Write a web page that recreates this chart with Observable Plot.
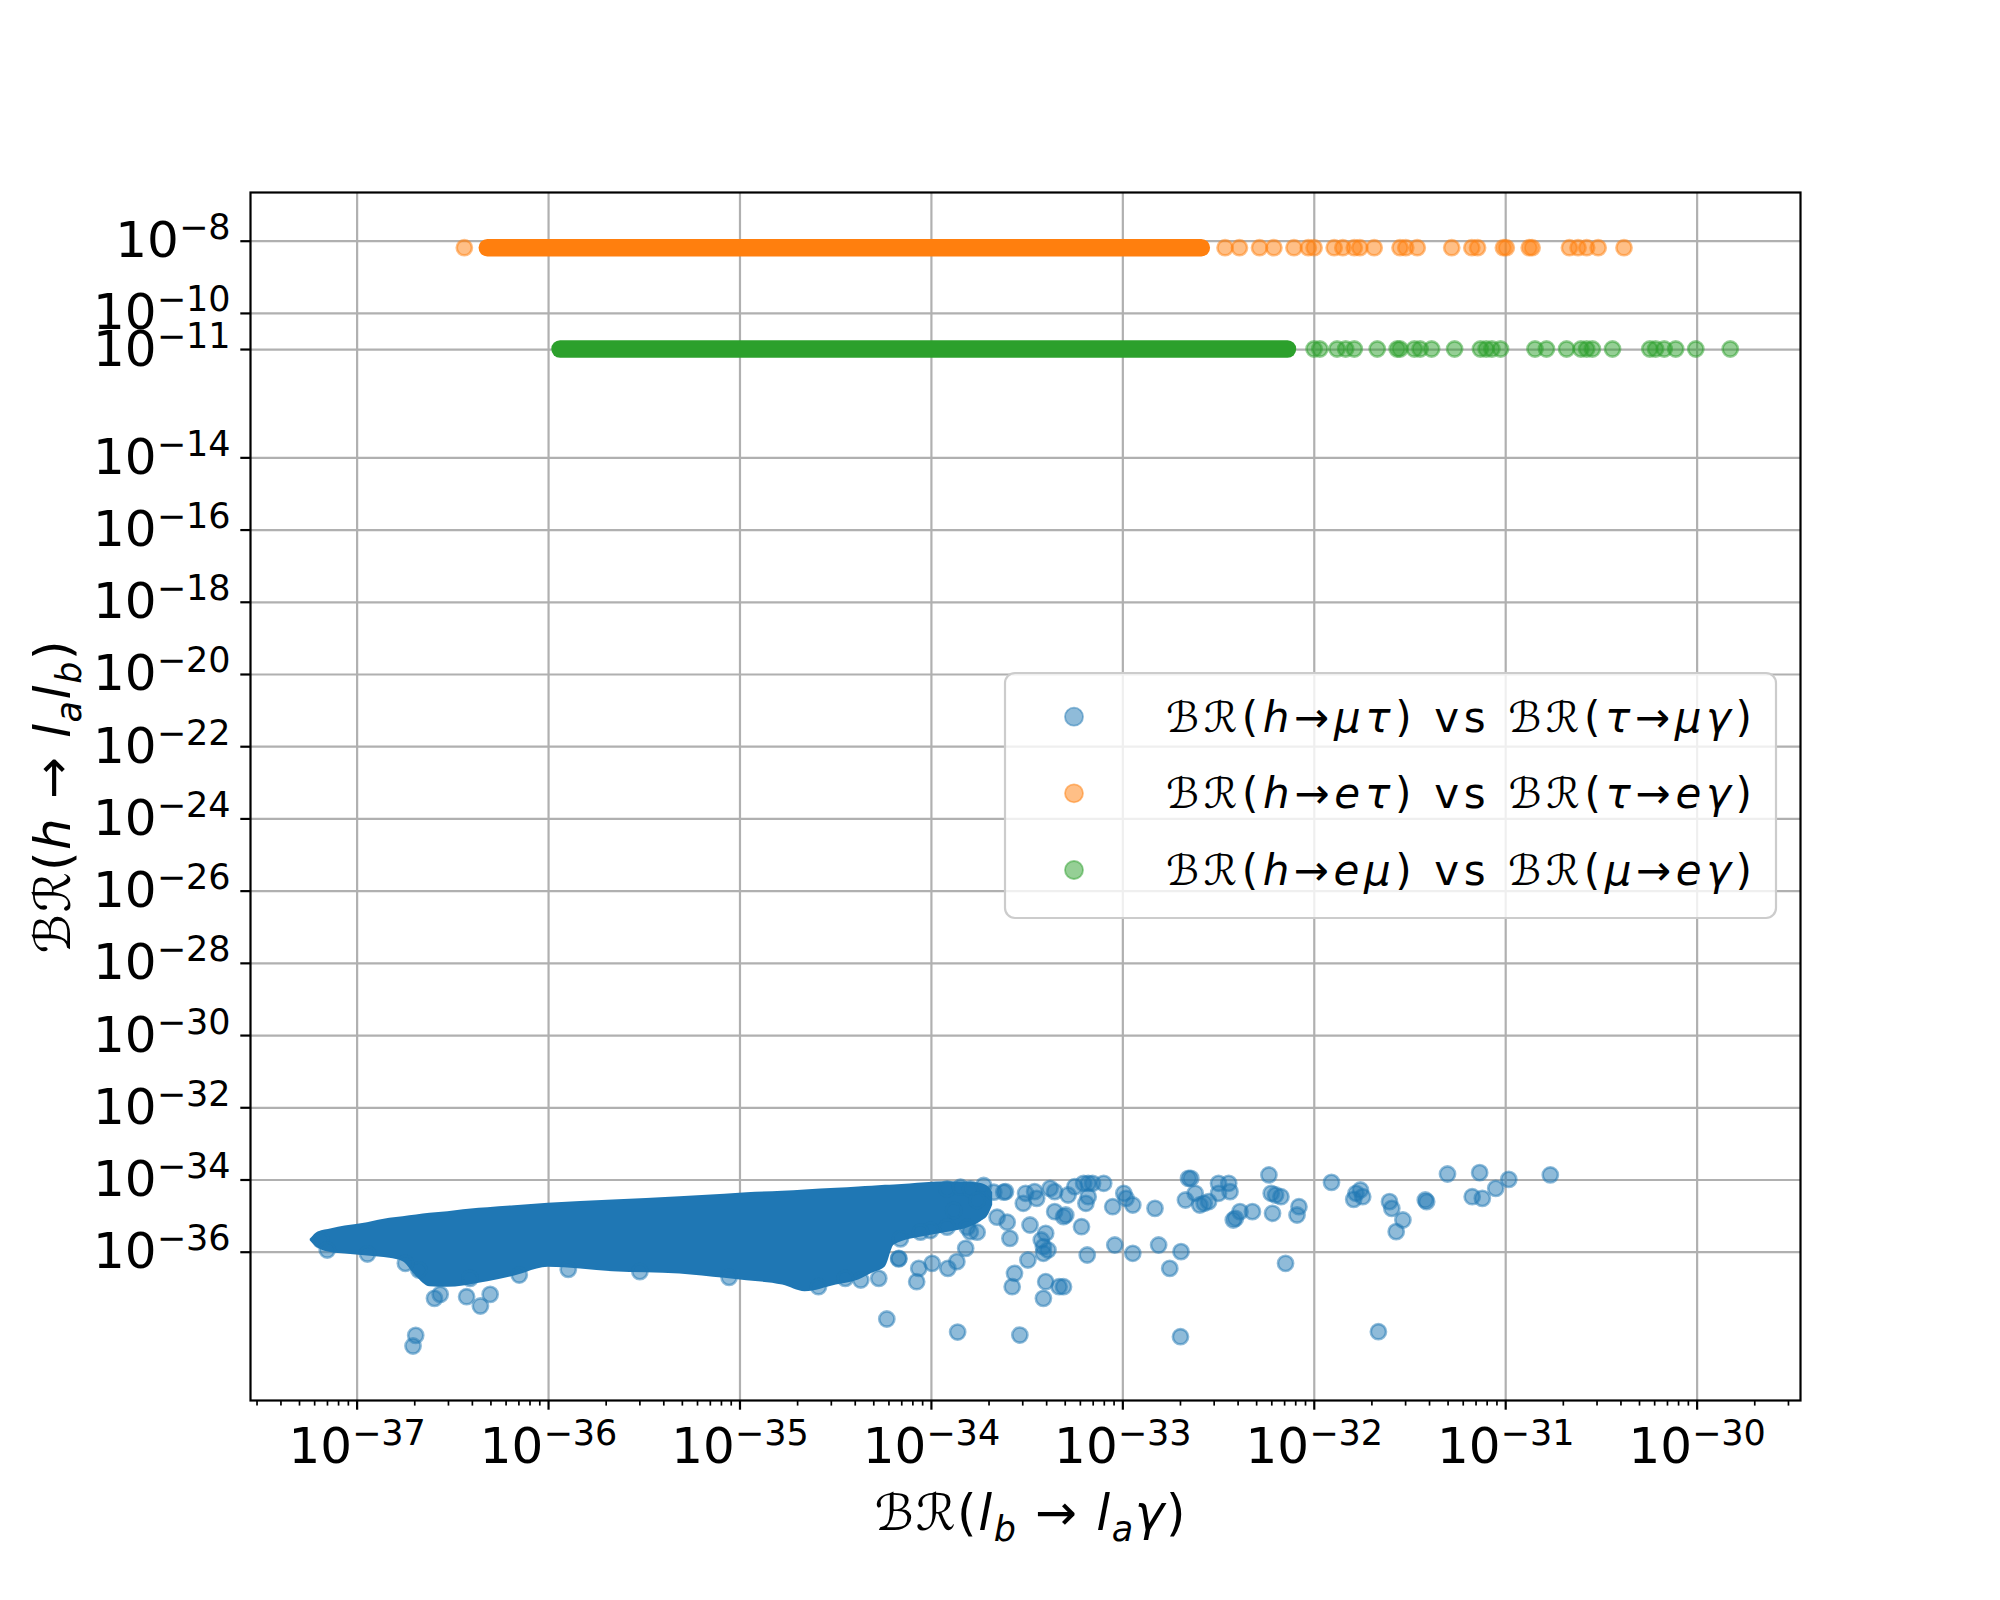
<!DOCTYPE html>
<html><head><meta charset="utf-8">
<script src="https://cdn.jsdelivr.net/npm/d3@7"></script>
<script src="https://cdn.jsdelivr.net/npm/@observablehq/plot@0.6"></script>
<style>body{margin:0;background:#fff}svg text{white-space:pre}</style>
</head><body><div id="chart"></div><script>
// ---- data (log10 exponents) ----
const xTickExps = [-37,-36,-35,-34,-33,-32,-31,-30];
const yTickExps = [-8,-10,-11,-14,-16,-18,-20,-22,-24,-26,-28,-30,-32,-34,-36];

// h->e tau vs tau->e gamma (orange)
const tauEY = -8.18;
const tauEBand = [-36.32, -32.59];
const tauEDots = [-36.44,-32.466,-32.391,-32.286,-32.211,-32.106,-32.031,-32.001,-31.896,-31.851,-31.791,-31.762,-31.687,-31.552,-31.522,-31.462,-31.282,-31.177,-31.147,-31.012,-30.997,-30.877,-30.862,-30.667,-30.622,-30.577,-30.517,-30.382];

// h->e mu vs mu->e gamma (green)
const muEY = -10.985;
const muEBand = [-35.94, -32.14];
const muEDots = [-32.001,-31.971,-31.881,-31.836,-31.791,-31.671,-31.567,-31.552,-31.477,-31.447,-31.387,-31.267,-31.132,-31.102,-31.072,-31.027,-30.847,-30.787,-30.682,-30.607,-30.577,-30.547,-30.442,-30.247,-30.217,-30.172,-30.112,-30.007,-29.827];

// h->mu tau vs tau->mu gamma (blue): dense core outline
const coreX  = [-37.245,-37.203,-37.133,-37.063,-36.946,-36.830,-36.760,-36.690,-36.620,-36.526,-36.363,-36.317,-36.177,-36.002,-35.663,-35.314,-35.080,-34.964,-34.777,-34.660,-34.497,-34.380,-34.310,-34.240,-34.194,-34.031,-33.914,-33.797,-33.740,-33.700,-33.680];
const coreHi = [-35.644,-35.440,-35.348,-35.274,-35.182,-35.062,-35.016,-34.970,-34.923,-34.877,-34.785,-34.766,-34.711,-34.646,-34.554,-34.462,-34.397,-34.351,-34.314,-34.277,-34.231,-34.194,-34.175,-34.148,-34.139,-34.074,-34.046,-34.060,-34.100,-34.200,-34.350];
const coreLo = [-35.681,-35.893,-36.013,-36.050,-36.105,-36.170,-36.262,-36.678,-36.955,-36.973,-36.862,-36.816,-36.659,-36.419,-36.539,-36.604,-36.724,-36.789,-36.909,-37.093,-36.909,-36.770,-36.585,-36.401,-35.801,-35.560,-35.450,-35.300,-35.150,-34.950,-34.700];
// blue scattered points
const blueX = [-36.694,-36.708,-36.596,-36.566,-36.428,-36.356,-36.305,-34.233,-33.863,-34.170,-34.275,-34.369,-34.450,-34.077,-34.066,-33.996,-33.914,-33.867,-33.821,-33.797,-36.678,-36.153,
 -33.538,-32.699,-31.665,-33.613,-33.590,-33.566,-33.578,-33.520,-33.508,-33.496,-33.485,-33.461,-33.450,-33.426,-33.415,-33.415,-33.403,-33.391,-33.403,-33.415,-33.380,-33.356,-33.356,-33.333,-33.310,-33.310,-33.298,-33.286,-33.251,-33.216,-33.205,-33.193,-33.181,-33.181,-33.186,-33.158,-33.100,-33.053,-33.042,-32.995,-32.983,-32.948,-32.948,-32.832,-32.813,-32.755,-32.696,-32.673,-32.657,-32.645,-32.622,-32.598,-32.575,-32.552,-32.500,-32.500,-32.447,-32.440,-32.423,-32.412,-32.388,-32.323,-32.237,-32.225,-32.218,-32.202,-32.174,-32.150,-32.090,-32.080,-31.910,-31.794,-31.782,-31.759,-31.747,-31.607,-31.595,-31.572,-31.537,-31.420,-31.413,-31.304,-31.175,-31.136,-31.122,-31.052,-30.984,-30.767,
 -33.918,-33.848,-33.796,-33.727,-33.674,-33.622,-33.761,-33.883,-33.813,-33.761,-33.918,-34.005,-34.057,-33.657,-33.604,-34.162,-34.171,
 -37.190,-37.156,-36.946,-36.748,-36.410,-35.897,-35.523,-35.057,-34.590];
const blueY = [-38.303,-38.598,-37.278,-37.167,-37.232,-37.490,-37.167,-37.850,-38.211,-36.170,-36.724,-36.770,-36.724,-36.816,-36.447,-36.308,-36.447,-36.262,-35.893,-35.431,-36.493,-36.632,
 -38.294,-38.340,-38.201,-34.323,-35.616,-36.585,-36.955,-34.646,-34.369,-36.216,-35.247,-34.323,-34.508,-35.662,-35.847,-36.031,-35.477,-35.939,-36.816,-37.278,-34.231,-34.877,-34.323,-36.955,-36.955,-35.016,-34.970,-34.416,-34.185,-35.293,-34.092,-34.646,-34.092,-34.462,-36.078,-34.092,-34.092,-34.739,-35.801,-34.369,-34.508,-36.031,-34.693,-34.785,-35.801,-36.447,-35.985,-34.554,-33.954,-33.954,-34.369,-34.693,-34.646,-34.600,-34.092,-34.369,-34.092,-34.323,-35.108,-35.062,-34.877,-34.877,-33.861,-34.369,-34.923,-34.416,-34.462,-36.308,-34.970,-34.739,-34.065,-34.536,-34.369,-34.277,-34.462,-34.600,-34.785,-35.431,-35.108,-34.554,-34.600,-33.834,-34.462,-33.797,-34.508,-34.231,-33.982,-33.861,
 -34.245,-34.200,-34.245,-34.153,-34.338,-34.338,-34.568,-34.845,-35.307,-35.446,-35.307,-35.399,-35.446,-35.031,-35.169,-35.631,-36.185,
 -35.660,-35.939,-36.050,-36.308,-36.724,-36.475,-36.539,-36.696,-36.955];

const legendLabels = [
  [["ℬℛ"],["("],["h",1],["→"],["μτ",1],[")"],[" vs "],["ℬℛ"],["("],["τ",1],["→"],["μγ",1],[")"]],
  [["ℬℛ"],["("],["h",1],["→"],["eτ",1],[")"],[" vs "],["ℬℛ"],["("],["τ",1],["→"],["eγ",1],[")"]],
  [["ℬℛ"],["("],["h",1],["→"],["eμ",1],[")"],[" vs "],["ℬℛ"],["("],["μ",1],["→"],["eγ",1],[")"]]
];
const xLabel = [["ℬℛ"],["("],["l",1],["b",1,1],[" → "],["l",1],["a",1,1],["γ",1],[")"]];
const yLabel = [["ℬℛ"],["("],["h",1],[" → "],["l",1],["a",1,1],["l",1],["b",1,1],[")"]];
const colors = ["#1f77b4","#ff7f0e","#2ca02c"];

// ---- build tables ----
const p = e => Math.pow(10, e);
const xDomain = [p(-37.557), p(-29.46)], yDomain = [p(-40.107), p(-6.651)];
const xTicks = xTickExps.map(p), yTicks = yTickExps.map(p);
const minorX = [];
for (let k = -38; k <= -30; k++) for (let m = 2; m <= 9; m++) {
  const v = m * p(k);
  if (v >= xDomain[0] && v <= xDomain[1]) minorX.push(v);
}
const core = coreX.map((x, i) => ({x: p(x), hi: p(coreHi[i]), lo: p(coreLo[i])}));
const blue = blueX.map((x, i) => ({x: p(x), y: p(blueY[i])}));
const orange = tauEDots.map(x => ({x: p(x), y: p(tauEY)}));
const green = muEDots.map(x => ({x: p(x), y: p(muEY)}));
const bands = [
  {x1: p(tauEBand[0]), x2: p(tauEBand[1]), y: p(tauEY), c: colors[1]},
  {x1: p(muEBand[0]), x2: p(muEBand[1]), y: p(muEY), c: colors[2]}
];
const dotStyle = c => ({x: "x", y: "y", r: 7.6, fill: c, fillOpacity: 0.5, stroke: c, strokeOpacity: 0.5, strokeWidth: 2.6});
const fmt = d => "10^" + Math.round(Math.log10(d));

const chart = Plot.plot({
  width: 2000, height: 1600,
  marginLeft: 250, marginRight: 200, marginTop: 192, marginBottom: 200,
  style: {fontFamily: "DejaVu Sans", fontSize: "50px", background: "white", color: "black"},
  x: {type: "log", domain: xDomain},
  y: {type: "log", domain: yDomain},
  marks: [
    Plot.gridX(xTicks, {stroke: "#b0b0b0", strokeOpacity: 1, strokeWidth: 2.2}),
    Plot.gridY(yTicks, {stroke: "#b0b0b0", strokeOpacity: 1, strokeWidth: 2.2}),
    Plot.areaY(core, {x: "x", y1: "lo", y2: "hi", fill: colors[0], curve: "monotone-x"}),
    Plot.dot(blue, dotStyle(colors[0])),
    Plot.link(bands, {x1: "x1", x2: "x2", y1: "y", y2: "y", stroke: "c", strokeWidth: 17.5, strokeLinecap: "round"}),
    Plot.dot(orange, dotStyle(colors[1])),
    Plot.dot(green, dotStyle(colors[2])),
    Plot.frame({stroke: "black", strokeWidth: 2.2}),
    Plot.axisX(minorX, {tickSize: 5.6, tickFormat: () => "", strokeWidth: 1.7, label: null}),
    Plot.axisX(xTicks, {tickSize: 9.7, tickPadding: 17, tickFormat: fmt, strokeWidth: 2.2, label: null}),
    Plot.axisY(yTicks, {tickSize: 9.7, tickPadding: 10.3, tickFormat: fmt, strokeWidth: 2.2, label: null})
  ]
});
document.getElementById("chart").appendChild(chart);

// ---- superscript tick labels ----
const ns = "http://www.w3.org/2000/svg";
chart.querySelectorAll("text").forEach(t => {
  const s = t.textContent;
  if (!s.startsWith("10^")) return;
  const e = s.slice(3).replace("-", "\u2212");
  t.textContent = "";
  const a = document.createElementNS(ns, "tspan"); a.textContent = "10"; t.appendChild(a);
  const b = document.createElementNS(ns, "tspan"); b.textContent = e;
  b.setAttribute("font-size", "35"); b.setAttribute("dy", "-18"); t.appendChild(b);
});

// ---- rich text helper ----
function rich(parent, x, y, parts, size, anchor, rotate, len) {
  const t = document.createElementNS(ns, "text");
  t.setAttribute("x", x); t.setAttribute("y", y);
  t.setAttribute("text-anchor", anchor);
  t.setAttribute("font-family", "DejaVu Sans");
  t.setAttribute("font-size", size);
  t.setAttribute("fill", "black");
  if (len) { t.setAttribute("textLength", len); t.setAttribute("lengthAdjust", "spacing"); }
  if (rotate != null) t.setAttribute("transform", `rotate(${rotate},${x},${y})`);
  let shift = 0;
  for (const [str, it, sub] of parts) {
    const s = document.createElementNS(ns, "tspan");
    s.textContent = str;
    if (it) s.setAttribute("font-style", "italic");
    const target = sub ? size * 0.22 : 0;
    if (sub) s.setAttribute("font-size", size * 0.7);
    if (target - shift) s.setAttribute("dy", target - shift);
    shift = target;
    t.appendChild(s);
  }
  parent.appendChild(t);
  return t;
}
const g = document.createElementNS(ns, "g");
chart.appendChild(g);
rich(g, 1030, 1530, xLabel, 50, "middle", null, 311);
rich(g, 70, 797, yLabel, 50, "middle", -90, 313);

// ---- legend ----
const box = document.createElementNS(ns, "rect");
Object.entries({x: 1005, y: 673, width: 771, height: 245, rx: 10, fill: "white", "fill-opacity": 0.8, stroke: "#cccccc", "stroke-width": 2.2})
  .forEach(([k, v]) => box.setAttribute(k, v));
g.appendChild(box);
const rowY = [716.7, 793.3, 870];
legendLabels.forEach((parts, i) => {
  const c = document.createElementNS(ns, "circle");
  Object.entries({cx: 1074, cy: rowY[i], r: 9, fill: colors[i], "fill-opacity": 0.5, stroke: colors[i], "stroke-opacity": 0.5, "stroke-width": 1.8})
    .forEach(([k, v]) => c.setAttribute(k, v));
  g.appendChild(c);
  rich(g, 1166, rowY[i] + 15, parts, 42, "start", null, 586);
});
</script></body></html>
